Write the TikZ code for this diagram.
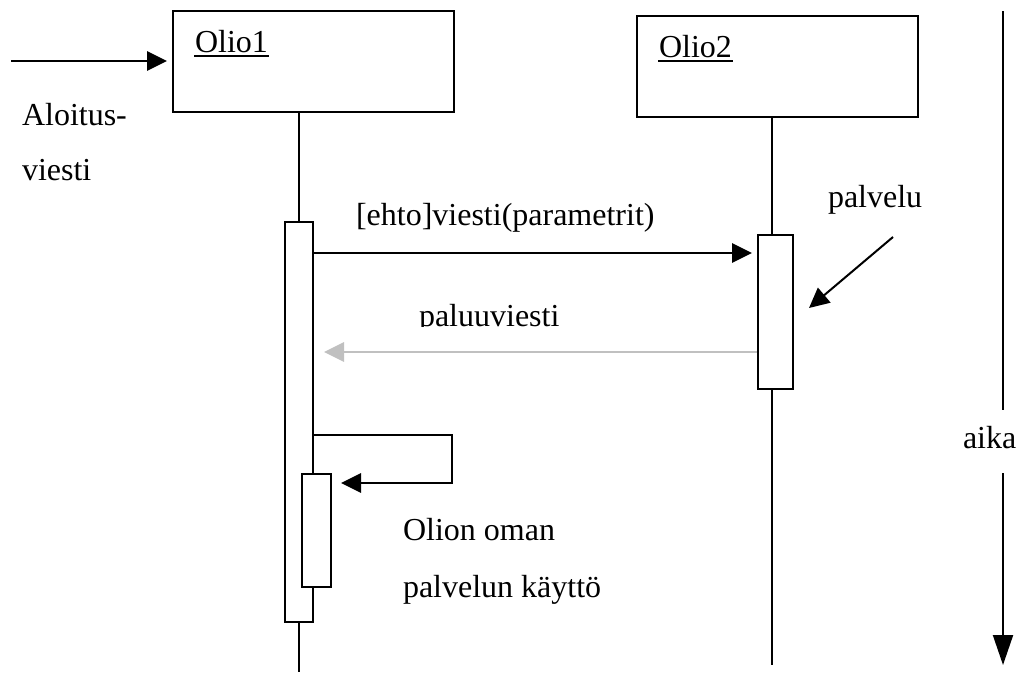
\documentclass[tikz,border=0pt]{standalone}
\usepackage{fontspec}
\setmainfont{Liberation Serif}
\usetikzlibrary{arrows.meta}
\definecolor{paluuharmaa}{RGB}{192,192,192}

\begin{document}
\begin{tikzpicture}[x=0.75pt, y=-0.75pt, line width=1.5pt,
  >={Triangle[length=15pt,width=14.5pt]},
  olio/.style={draw, inner sep=0pt, minimum width=210.75pt, minimum height=75.75pt},
  elama/.style={draw, fill=white, inner sep=0pt},
  teksti/.style={inner sep=0pt, anchor=base west, font=\fontsize{24}{28}\selectfont},
  viesti/.style={->, shorten >=#1}, viesti/.default=3.75pt,
  paluu/.style={viesti=7.5pt, draw=paluuharmaa}]
\useasboundingbox (0,0) rectangle (1016,672);

% oliot
\node[olio] (o1) at (313.5,61.5) {};
\node[olio] (o2) at (777.5,66.5) {};
\node[teksti] (n1) at (194,52) {Olio1};
\node[teksti] (n2) at (658,57) {Olio2};
\draw ([yshift=-3pt]n1.base west) -- ([yshift=-3pt]n1.base east);
\draw ([yshift=-3pt]n2.base west) -- ([yshift=-3pt]n2.base east);

% elamanviivat ja aktivaatiot
\coordinate (e2) at (772,0);
\node[elama, minimum width=21pt, minimum height=300pt] (act1) at (299,422) {};
\node[elama, minimum width=21.75pt, minimum height=84.75pt] (act1b) at (316.5,530.5) {};
\node[elama, minimum width=26.25pt, minimum height=115.5pt] (act2) at (775.5,312) {};
\draw (o1.south -| act1) -- (act1.north);
\draw (act1.south) -- (act1.south |- 0,672);
\draw (o2.south -| e2) -- (act2.north -| e2);
\draw (act2.south -| e2) -- (e2 |- 0,665);

% aloitusviesti
\coordinate (alku) at (11,61);
\draw[viesti] (alku) -- (o1.west |- alku);
\node[teksti] (al1) at (21,125) {Aloitus-};
\node[teksti] (al2) at (21,180) {viesti};

% viesti ja paluuviesti
\draw[viesti] (act1.east |- 0,253) -- (act2.west |- 0,253);
\node[teksti] (ehto) at (355,225) {[ehto]viesti(parametrit)};
\draw[paluu] (act2.west |- 0,352) -- (act1.east |- 0,352);
\begin{scope}
  \clip (0,0) rectangle (1016,326.5);
  \node[teksti] (pv) at (418,326) {paluuviesti};
\end{scope}

% palvelu
\node[teksti] (palv) at (827,207) {palvelu};
\coordinate (pvtail) at (893,237);
\coordinate (pvtip) at (809,308);
\draw[->] (pvtail) -- (pvtip);

% oman palvelun kaytto
\draw[viesti=6.75pt] (act1.east |- 0,435) -| (452,483) -- (act1b.east |- 0,483);
\node[teksti] (om1) at (402,540) {Olion oman};
\node[teksti] (om2) at (402,597) {palvelun käyttö};

% aika
\coordinate (aikaalku) at (1003,11);
\coordinate (aikaloppu) at (1003,665);
\node[teksti] (aika) at (962,448) {aika};
\draw (aikaalku) -- (aikaalku |- 0,410);
\draw[->, >={Triangle[length=22.5pt,width=15pt]}] (aikaalku |- 0,473) -- (aikaloppu);
\end{tikzpicture}
\end{document}
